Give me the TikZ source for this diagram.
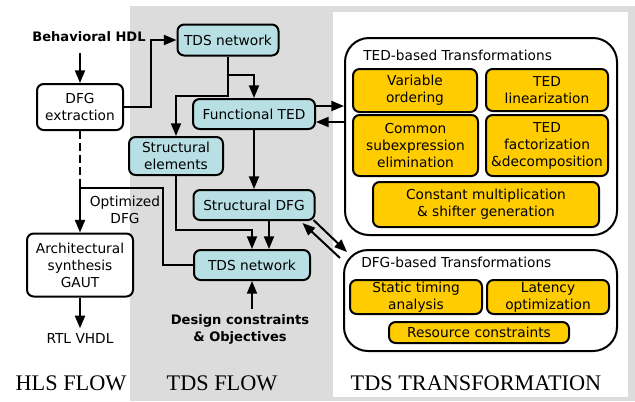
\documentclass[tikz,border=0pt]{standalone}
\usepackage{fontspec}
\setmainfont{DejaVu Sans}
\newfontfamily\flowfont{Liberation Serif}
\usepackage{tikz}
\usetikzlibrary{arrows.meta,positioning,calc}

\newcommand{\px}{0.75pt}
\definecolor{tdscyan}{RGB}{184,224,228}
\definecolor{tedyellow}{RGB}{255,204,0}
\definecolor{bggray}{RGB}{220,220,220}

\tikzset{
  line/.style={line width=1.5pt},
  arr/.style={line width=1.5pt,-{Triangle[length=9.5pt,width=7.5pt]}},
  hlsbox/.style={draw,line width=1.5pt,rounded corners=5pt,fill=white,align=center,inner sep=0pt},
  tdsbox/.style={hlsbox,fill=tdscyan},
  tedbox/.style={hlsbox,fill=tedyellow,rounded corners=5pt},
  groupbox/.style={draw,line width=1.5pt,rounded corners=18pt,fill=white,inner sep=0pt},
  flowtitle/.style={font=\flowfont\fontsize{16.7}{20}\selectfont},
  inputtxt/.style={font=\bfseries\fontsize{9.8}{12.75}\selectfont,align=center}
}

\begin{document}
\begin{tikzpicture}[x=0.75pt,y=-0.75pt,font=\fontsize{10.3}{12.75}\selectfont]
\useasboundingbox (0,0) rectangle (635,401);

% Background panels
\fill[bggray] (130,6) rectangle (635,401);
\fill[white] (333,12) rectangle (628,397);

% HLS flow
\node[inputtxt] (hdl) at (89,37) {Behavioral HDL};
\node[hlsbox,minimum width=86*\px,minimum height=46*\px] (dfgx) at (80,107) {DFG\\extraction};
\node[hlsbox,minimum width=106*\px,minimum height=63*\px] (arch) at (80,265) {Architectural\\synthesis\\GAUT};
\node (rtl) at (80,338) {RTL VHDL};
\node[align=center] (optlbl) at (125,210) {Optimized\\DFG};

% TDS flow
\node[tdsbox,minimum width=101*\px,minimum height=31*\px] (tdsA) at (228,40) {TDS network};
\node[tdsbox,minimum width=122*\px,minimum height=30*\px] (ften) at (254,114) {Functional TED};
\node[tdsbox,minimum width=94*\px,minimum height=38*\px] (strel) at (176,156) {Structural\\elements};
\node[tdsbox,minimum width=121*\px,minimum height=30*\px] (sdfg) at (254,205) {Structural DFG};
\node[tdsbox,minimum width=116*\px,minimum height=30*\px] (tdsB) at (252,265) {TDS network};
\node[inputtxt] (dc) at (240,329) {Design constraints\\\& Objectives};

% TED-based transformations
\node[groupbox,minimum width=272*\px,minimum height=197*\px] (tedgrp) at (481,136.5) {};
\node[anchor=west,inner sep=0pt] (tedlbl) at (363,55) {TED-based Transformations};
\node[tedbox,minimum width=124*\px,minimum height=43*\px] (vord) at (415,90.5) {Variable\\ordering};
\node[tedbox,minimum width=122*\px,minimum height=42*\px] (tlin) at (547,90) {TED\\linearization};
\node[tedbox,minimum width=125*\px,minimum height=61*\px] (cse) at (415.5,145.5) {Common\\subexpression\\elimination};
\node[tedbox,minimum width=122*\px,minimum height=61*\px] (tfact) at (547,145.5) {TED\\factorization\\\&decomposition};
\node[tedbox,minimum width=226*\px,minimum height=45*\px] (cmul) at (486,204.5) {Constant multiplication\\\& shifter generation};

% DFG-based transformations
\node[groupbox,minimum width=273*\px,minimum height=101*\px] (dfggrp) at (480.5,300.5) {};
\node[anchor=west,inner sep=0pt] (dfglbl) at (361,262) {DFG-based Transformations};
\node[tedbox,minimum width=132*\px,minimum height=34*\px] (sta) at (416,297) {Static timing\\analysis};
\node[tedbox,minimum width=122*\px,minimum height=34*\px] (lat) at (548,297) {Latency\\optimization};
\node[tedbox,minimum width=180*\px,minimum height=21*\px] (res) at (479,332.5) {Resource constraints};

% Flow titles
\foreach \x/\name/\label in {71/hlsttl/HLS FLOW, 222/tdsttl/TDS FLOW, 476/transttl/TDS TRANSFORMATION}
    \node[flowtitle] (\name) at (\x,383) {\label};

% Connectors
\draw[arr] ($(hdl.south -| dfgx.north)+(0,6)$) -- (dfgx.north);
\draw[arr] (dfgx.east) -- ++(27,0) |- (tdsA.west);
\coordinate (splitA) at (tdsA.south |- 0,75);
\coordinate (splitB) at (tdsA.south |- 0,96);
\draw[arr] (splitA) -| (ften.north);
\draw[arr] (tdsA.south) -- (splitB) -| (strel.north);
\draw[arr] (ften.south) -- (sdfg.north);
\draw[arr] (strel.south) |- (tdsB.north |- 0,230) -- (tdsB.north);
\draw[arr] (sdfg.south -| 269,0) -- (tdsB.north -| 269,0);
\draw[arr] (dc.north -| tdsB.south) -- (tdsB.south);
\draw[line,dashed,dash pattern=on 6pt off 3pt] (dfgx.south) -- (dfgx.south |- 0,188);
\draw[arr] (tdsB.west) -| (163,188) -| (arch.north);
\draw[arr] (arch.south) -- (rtl.north);

% Links to transformations
\draw[arr] (ften.east |- 0,106) -- (tedgrp.west |- 0,106);
\draw[arr] (tedgrp.west |- 0,122) -- (ften.east |- 0,122);
\draw[arr] ($(sdfg.south east)+(-2,-1)$) -- ($(dfggrp.north west)+(4,3)$);
\draw[arr] ($(dfggrp.north west)+(-3,9)$) -- ($(sdfg.south east)+(-13,2)$);
\end{tikzpicture}
\end{document}
